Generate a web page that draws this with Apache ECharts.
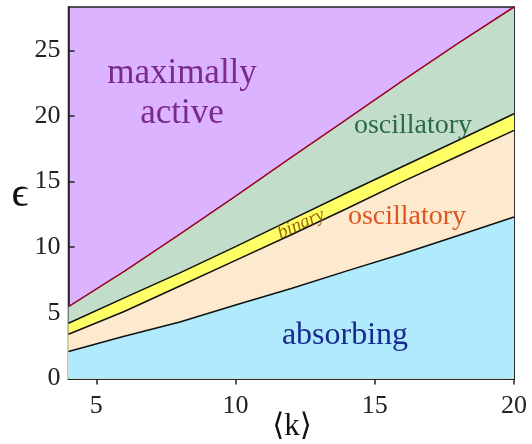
<!DOCTYPE html>
<html>
<head>
<meta charset="utf-8">
<script src="https://cdn.jsdelivr.net/npm/echarts@6/dist/echarts.min.js"></script>
<style>
html,body{margin:0;padding:0;background:#fff;}
#chart{width:532px;height:444px;}
</style>
</head>
<body>
<div id="chart"></div>
<script>
const kValues = [4, 6, 8, 10, 12, 14, 16, 18, 20];
const activeBoundary = [5.48, 8.16, 11.0, 13.9, 16.85, 19.75, 22.7, 25.55, 28.3];
const binaryTop = [4.21, 6.14, 8.05, 10.05, 12.1, 14.15, 16.15, 18.15, 20.17];
const binaryBottom = [3.37, 5.1, 7.05, 9.0, 10.95, 12.95, 15.0, 16.95, 18.9];
const absorbingBoundary = [2.05, 3.22, 4.3, 5.6, 6.85, 8.2, 9.5, 10.9, 12.3];
const xTicks = [5, 10, 15, 20];
const yTicks = [0, 5, 10, 15, 20, 25];
const xRange = [4, 20];
const yRange = [0, 28.3];

const serif = '"Liberation Serif", "DejaVu Serif", serif';
const pairs = arr => kValues.map((k, i) => [k, arr[i]]);

const chart = echarts.init(document.getElementById('chart'));

function region(name, arr, fill, lineColor) {
  return {
    name: name,
    type: 'line',
    data: pairs(arr),
    showSymbol: false,
    symbol: 'none',
    silent: true,
    lineStyle: { color: lineColor, width: 1.5 },
    areaStyle: { color: fill, opacity: 1, origin: 'start' }
  };
}

const tickLabel = { fontFamily: serif, fontSize: 26, color: '#222' };

chart.setOption({
  animation: false,
  grid: {
    left: 68.5, right: 18, top: 7, bottom: 65.5,
    show: true, backgroundColor: '#dbb3fe', borderColor: '#222', borderWidth: 1.5
  },
  xAxis: [
    {
      type: 'value', min: xRange[0], max: xRange[1], position: 'bottom',
      axisLine: { show: true, lineStyle: { color: '#1e2e40', width: 1.5 } },
      axisTick: { show: true, inside: true, length: 6, customValues: xTicks, lineStyle: { color: '#222', width: 1.5 } },
      axisLabel: Object.assign({ customValues: xTicks, margin: 15 }, tickLabel),
      splitLine: { show: false }
    },
    {
      type: 'value', min: xRange[0], max: xRange[1], position: 'top',
      axisLine: { show: true, lineStyle: { color: '#222', width: 1.5 } },
      axisTick: { show: true, inside: true, length: 6, customValues: xTicks, lineStyle: { color: '#222', width: 1.5 } },
      axisLabel: { show: false },
      splitLine: { show: false }
    }
  ],
  yAxis: [
    {
      type: 'value', min: yRange[0], max: yRange[1], position: 'left',
      axisLine: { show: true, lineStyle: { color: '#222', width: 1.5 } },
      axisTick: { show: true, inside: true, length: 6, customValues: yTicks, lineStyle: { color: '#222', width: 1.5 } },
      axisLabel: Object.assign({ customValues: yTicks, margin: 8 }, tickLabel),
      splitLine: { show: false }
    },
    {
      type: 'value', min: yRange[0], max: yRange[1], position: 'right',
      axisLine: { show: true, lineStyle: { color: '#222', width: 1.5 } },
      axisTick: { show: true, inside: true, length: 6, customValues: yTicks, lineStyle: { color: '#222', width: 1.5 } },
      axisLabel: { show: false },
      splitLine: { show: false }
    }
  ],
  series: [
    region('oscillatory (upper)', activeBoundary, '#c2ddc9', '#9a0020'),
    region('binary', binaryTop, '#ffff66', '#111'),
    region('oscillatory (lower)', binaryBottom, '#fde9cd', '#111'),
    region('absorbing', absorbingBoundary, '#afeafd', '#111')
  ],
  graphic: [
    { type: 'text', x: 182, y: 74, style: { text: 'maximally', font: '35px ' + serif, fill: '#7a2a8a', textAlign: 'center', textVerticalAlign: 'middle' }, z: 100 },
    { type: 'text', x: 182, y: 114, style: { text: 'active', font: '35px ' + serif, fill: '#7a2a8a', textAlign: 'center', textVerticalAlign: 'middle' }, z: 100 },
    { type: 'text', x: 413, y: 126, style: { text: 'oscillatory', font: '28px ' + serif, fill: '#2a6a48', textAlign: 'center', textVerticalAlign: 'middle' }, z: 100 },
    { type: 'text', x: 407, y: 217, style: { text: 'oscillatory', font: '28px ' + serif, fill: '#dd5520', textAlign: 'center', textVerticalAlign: 'middle' }, z: 100 },
    { type: 'text', x: 345, y: 336, style: { text: 'absorbing', font: '32px ' + serif, fill: '#1a2a8c', textAlign: 'center', textVerticalAlign: 'middle' }, z: 100 },
    { type: 'text', x: 301, y: 224, rotation: 0.42, style: { text: 'binary', font: 'italic 19px ' + serif, fill: '#9a6608', textAlign: 'center', textVerticalAlign: 'middle' }, z: 100 },
    { type: 'text', x: 20, y: 195, style: { text: 'ϵ', font: '42px ' + serif, fill: '#111', textAlign: 'center', textVerticalAlign: 'middle' }, z: 100 },
    { type: 'text', x: 292, y: 427, style: { text: '⟨k⟩', font: '31px ' + serif, fill: '#111', textAlign: 'center', textVerticalAlign: 'middle' }, z: 100 }
  ]
});
</script>
</body>
</html>
